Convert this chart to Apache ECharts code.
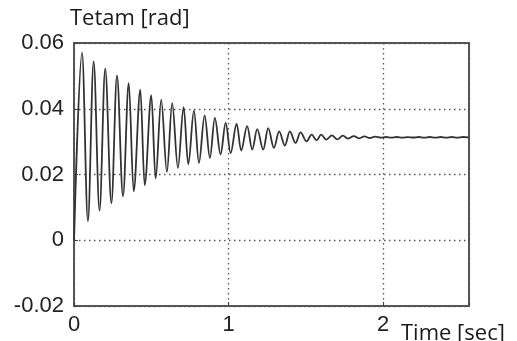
<!DOCTYPE html>
<html>
<head>
<meta charset="utf-8">
<script src="https://cdn.jsdelivr.net/npm/echarts@6/dist/echarts.min.js"></script>
<style>html,body{margin:0;padding:0;background:#fff;}#c{width:517px;height:341px;}</style>
</head>
<body>
<div id="c"></div>
<script>
const times = [0, 0.052, 0.090, 0.127, 0.165, 0.202, 0.242, 0.278, 0.317, 0.354, 0.386,
  0.429, 0.457, 0.500, 0.528, 0.564, 0.601, 0.635, 0.672, 0.709, 0.739, 0.776, 0.808,
  0.845, 0.879, 0.911, 0.948, 0.981, 1.013, 1.052, 1.081, 1.120, 1.153, 1.185, 1.224,
  1.256, 1.293, 1.327, 1.364, 1.396, 1.433, 1.465, 1.504, 1.537, 1.569, 1.599, 1.632,
  1.668, 1.703, 1.739, 1.774, 1.810, 1.846, 1.879, 1.913, 1.948, 1.985, 2.019, 2.052,
  2.088, 2.124, 2.159, 2.195, 2.230, 2.266, 2.301, 2.337, 2.372, 2.408, 2.443, 2.479,
  2.515, 2.553];
// Tetam [rad] values at those times
const tetam = [0, 0.0571, 0.0058, 0.0544, 0.0090, 0.0522, 0.0113, 0.0501, 0.0134, 0.0478, 0.0149,
  0.0458, 0.0167, 0.0441, 0.0188, 0.0428, 0.0208, 0.0417, 0.0220, 0.0405, 0.0231, 0.0394, 0.0235,
  0.0380, 0.0250, 0.0372, 0.0261, 0.0357, 0.0265, 0.0355, 0.0273, 0.0347, 0.0276, 0.0338, 0.0276,
  0.0341, 0.0281, 0.0331, 0.0288, 0.0331, 0.0296, 0.0328, 0.0301, 0.0321, 0.0304, 0.0321, 0.0306,
  0.0319, 0.0307, 0.0318, 0.0309, 0.0317, 0.0310, 0.0316, 0.0311, 0.0315, 0.0312, 0.0314, 0.0312,
  0.0314, 0.0312, 0.03135, 0.03125, 0.0314, 0.0312, 0.0314, 0.0312, 0.0314, 0.0312, 0.0314, 0.0312,
  0.0314, 0.0313];
const xTicks = [0, 1, 2];
const yTicks = [-0.02, 0, 0.02, 0.04, 0.06];
const yTitle = 'Tetam [rad]';
const xTitle = 'Time [sec]';

const chart = echarts.init(document.getElementById('c'), null, {renderer: 'canvas'});
const axisFont = {fontFamily: 'Liberation Sans, Arial, sans-serif', fontSize: 22, color: '#222'};
chart.setOption({
  animation: false,
  backgroundColor: '#fff',
  grid: {left: 74, right: 48, top: 43, bottom: 35, show: true, borderColor: '#555', borderWidth: 2, backgroundColor: 'transparent'},
  xAxis: {
    type: 'value', min: 0, max: 2.555, interval: 1,
    axisLine: {show: true, onZero: false, lineStyle: {color: '#555', width: 2}},
    axisTick: {show: true, inside: true, length: 4, lineStyle: {color: '#444'}},
    axisLabel: Object.assign({margin: 8, formatter: v => xTicks.includes(v) ? String(v) : ''}, axisFont),
    splitLine: {show: true, lineStyle: {color: '#555', type: [1.5, 3.5], width: 1.3}}
  },
  yAxis: {
    type: 'value', min: -0.02, max: 0.06, interval: 0.02,
    axisLine: {show: true, onZero: false, lineStyle: {color: '#555', width: 2}},
    axisTick: {show: true, inside: true, length: 4, lineStyle: {color: '#444'}},
    axisLabel: Object.assign({margin: 10, formatter: v => {
      const r = Math.round(v * 100) / 100;
      const m = yTicks.find(t => Math.abs(t - r) < 1e-9);
      return m === undefined ? '' : (m === 0 ? '0' : m.toFixed(2));
    }}, axisFont),
    splitLine: {show: true, lineStyle: {color: '#555', type: [1.5, 3.5], width: 1.3}}
  },
  series: [{
    type: 'line', showSymbol: false, smooth: 0.35, smoothMonotone: 'x',
    data: times.map((t, i) => [t, tetam[i]]),
    lineStyle: {color: '#333', width: 1.8},
    clip: true
  }],
  graphic: [
    {type: 'text', left: 70, top: 8, style: {text: yTitle, fontFamily: 'Open Sans, sans-serif', fontSize: 22, fill: '#1a1a1a'}},
    {type: 'text', left: 401, top: 323, style: {text: xTitle, fontFamily: 'Open Sans, sans-serif', fontSize: 22, fill: '#1a1a1a'}}
  ]
});
</script>
</body>
</html>
